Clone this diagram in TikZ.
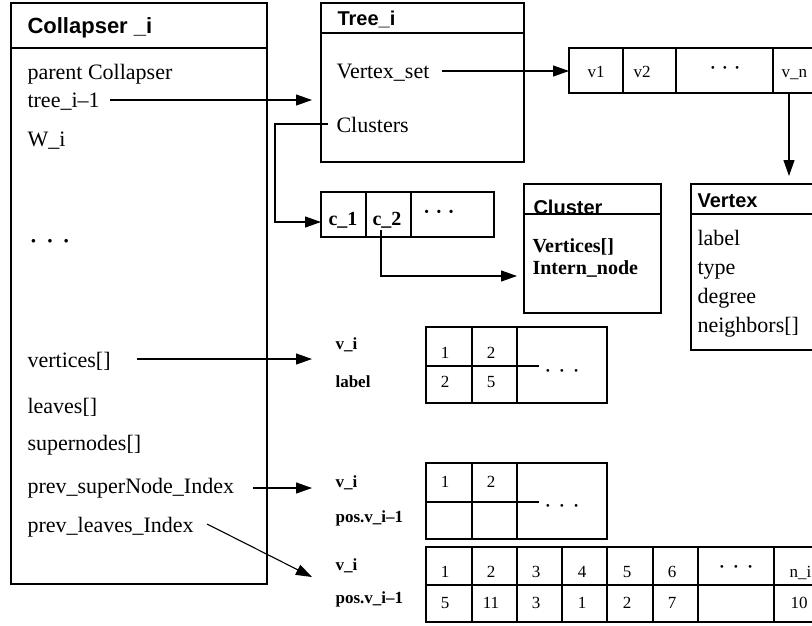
\documentclass[tikz,border=0pt]{standalone}
\usepackage{fontspec}
\setmainfont{Liberation Serif}
\setsansfont{Liberation Sans}
\usetikzlibrary{arrows.meta}
\newcommand\fsz[1]{\fontsize{#1}{#1}\selectfont}
\newcommand\tridots[1]{\bfseries·\hspace{#1}·\hspace{#1}·}

\begin{document}
\begin{tikzpicture}[x=1pt,y=-1pt,line width=1.1pt,
  box/.style={draw,rectangle,inner sep=0pt,outer sep=0pt,anchor=north west},
  title/.style={font=\sffamily\bfseries\fsz{20},anchor=base west,inner sep=0pt},
  bigtitle/.style={font=\sffamily\bfseries\fsz{22},anchor=base west,inner sep=0pt},
  field/.style={font=\fsz{22},anchor=base west,inner sep=0pt},
  bfield/.style={font=\bfseries\fsz{20},anchor=base west,inner sep=0pt},
  tag/.style={font=\bfseries\fsz{17},anchor=base west,inner sep=0pt},
  cell/.style={font=\fsz{17},anchor=base,inner sep=0pt},
  lcell/.style={font=\fsz{17},anchor=base west,inner sep=0pt},
  arr/.style={-{Triangle[length=16pt,width=11pt]}}]

\useasboundingbox (0,0) rectangle (812,625);
\clip (0,0) rectangle (812,625);

% ---------- Collapser_i record ----------
\node[box,minimum width=256pt,minimum height=581pt] (col) at (11,3) {};
\draw (col.west |- 0,48) -- (col.east |- 0,48);
\node[bigtitle] (coltitle) at (27,33) {Collapser \_i};
\node[field] (fparent) at (27,79) {parent Collapser};
\node[field] (ftree)   at (27,107) {tree\_i–1};
\node[field] (fw)      at (27,146) {W\_i};
\node[field,anchor=base] (fdots) at (50,248) {\tridots{9pt}};
\node[field] (fvert)   at (27,367) {vertices[]};
\node[field] (fleaves) at (27,413) {leaves[]};
\node[field] (fsuper)  at (27,450) {supernodes[]};
\node[field] (fprevs)  at (27,493) {prev\_superNode\_Index};
\node[field] (fprevl)  at (27,532) {prev\_leaves\_Index};

% ---------- Tree_i record ----------
\node[box,minimum width=203pt,minimum height=159pt] (tree) at (321,3) {};
\draw (tree.west |- 0,33) -- (tree.east |- 0,33);
\node[title] (treetitle) at (337,25) {Tree\_i};
\node[field] (tvset) at (336,78) {Vertex\_set};
\node[field] (tclus) at (336,132) {Clusters};

% ---------- vertex array v1 .. v_n ----------
\node[box,minimum width=261pt,minimum height=45pt] (varr) at (569,48) {};
\foreach \x in {623,676,773} \draw (\x,48) -- (\x,93);
\node[cell] (v1) at (596,77) {v1};
\node[cell] (v2) at (642,77) {v2};
\node[cell] (vdots) at (725,73) {\tridots{6.5pt}};
\node[lcell] (vn) at (781,77) {v\_n};
\coordinate (vncell) at (789,93);

% ---------- Vertex record ----------
\node[box,minimum width=139pt,minimum height=166pt] (vtx) at (691,184) {};
\draw (vtx.west |- 0,214) -- (vtx.east |- 0,214);
\node[title] (vtxtitle) at (697,207) {Vertex};
\node[field] (vlabel) at (697,245) {label};
\node[field] (vtype)  at (697,274) {type};
\node[field] (vdeg)   at (697,303) {degree};
\node[field] (vnb)    at (697,332) {neighbors[]};

% ---------- cluster array ----------
\node[box,minimum width=173pt,minimum height=45pt] (carr) at (321,192) {};
\foreach \x in {366,411} \draw (\x,192) -- (\x,237);
\node[font=\bfseries\fsz{20},anchor=base,inner sep=0pt] (c1) at (343,225) {c\_1};
\node[font=\bfseries\fsz{20},anchor=base,inner sep=0pt] (c2) at (387,225) {c\_2};
\node[font=\fsz{20},anchor=base,inner sep=0pt] (cdots) at (439,218) {\tridots{5.5pt}};

% ---------- Cluster record ----------
\node[box,minimum width=137pt,minimum height=129pt] (clu) at (524,184) {};
\draw (clu.west |- 0,214) -- (clu.east |- 0,214);
\node[title] (clutitle) at (533,214) {Cluster};
\node[bfield] (cverts) at (532,252) {Vertices[]};
\node[bfield] (cintern) at (532,274) {Intern\_node};

% ---------- table: v_i / label ----------
\node[tag] (t1a) at (335,349) {v\_i};
\node[tag] (t1b) at (335,387) {label};
\node[box,minimum width=181pt,minimum height=76pt] (tab1) at (426,327) {};
\draw (426,366) -- (539,366);
\foreach \x in {472,517} \draw (\x,327) -- (\x,403);
\node[cell] at (445,358) {1};
\node[cell] at (491,358) {2};
\node[cell] at (445,387) {2};
\node[cell] at (491,387) {5};
\node[cell] (t1dots) at (562,376) {\tridots{8.5pt}};

% ---------- table: v_i / pos.v_i-1 (supernodes) ----------
\node[tag] (t2a) at (335,487) {v\_i};
\node[tag] (t2b) at (335,522) {pos.v\_i–1};
\node[box,minimum width=181pt,minimum height=76pt] (tab2) at (426,463) {};
\draw (426,502) -- (539,502);
\foreach \x in {472,517} \draw (\x,463) -- (\x,539);
\node[cell] at (445,487) {1};
\node[cell] at (491,487) {2};
\node[cell] (t2dots) at (562,511) {\tridots{8.5pt}};

% ---------- table: v_i / pos.v_i-1 (leaves) ----------
\node[tag] (t3a) at (335,570) {v\_i};
\node[tag] (t3b) at (335,603) {pos.v\_i–1};
\node[box,minimum width=404pt,minimum height=75pt] (tab3) at (426,547) {};
\draw (426,585) -- (830,585);
\foreach \x in {472,517,562,607,653,698,774} \draw (\x,547) -- (\x,622);
\foreach \x/\a/\b in {445/1/5,491/2/11,536/3/3,582/4/1,627/5/2,672/6/7}{
  \node[cell] at (\x,577) {\a};
  \node[cell] at (\x,608) {\b};
}
\node[cell] (t3dots) at (736,572) {\tridots{8.5pt}};
\node[lcell] at (789,577) {n\_i};
\node[lcell] at (790,608) {10};

% ---------- connectors ----------
\coordinate (a1) at (110,100);
\draw[arr,shorten >=9pt] (a1) -- (a1 -| tree.west);

\coordinate (a2) at (442,71);
\draw[arr] (a2) -- (a2 -| varr.west);

\coordinate (a3) at (328,124);
\coordinate (a3b) at (275,124);
\coordinate (a3c) at (275,222);
\draw[arr] (a3) -- (a3b) -- (a3c) -- (a3c -| carr.west);

\coordinate (a4) at (381,230);
\coordinate (a4b) at (381,276);
\draw[arr,shorten >=7pt] (a4) -- (a4b) -- (a4b -| clu.west);

\coordinate (a5) at (789,176);
\draw[arr] (vncell) -- (a5);

\coordinate (a6) at (137,359);
\coordinate (a6e) at (312,359);
\draw[arr] (a6) -- (a6e);

\coordinate (a7) at (253,488);
\coordinate (a7e) at (312,488);
\draw[arr] (a7) -- (a7e);

\coordinate (a8) at (207,524);
\coordinate (a8e) at (312,577);
\draw[arr] (a8) -- (a8e);
\end{tikzpicture}
\end{document}
